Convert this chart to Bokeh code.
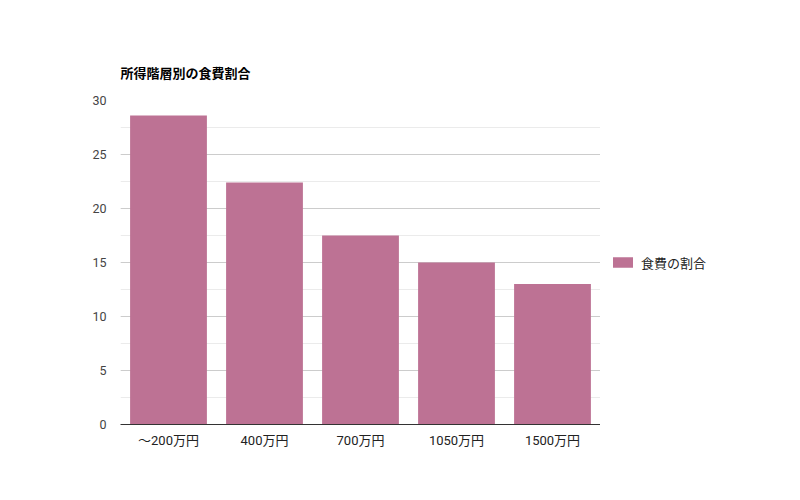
from bokeh.plotting import figure
from bokeh.layouts import row
from bokeh.models import ColumnDataSource, Legend, LegendItem, Range1d, FactorRange, SingleIntervalTicker
from bokeh.embed import file_html
from bokeh.resources import INLINE

categories = ["～200万円", "400万円", "700万円", "1050万円", "1500万円"]
values = [28.6, 22.4, 17.5, 15.0, 13.0]
series_name = "食費の割合"
title_text = "所得階層別の食費割合"

FONT = "Roboto, 'Noto Sans CJK JP', sans-serif"
BAR = "#bd7294"

src = ColumnDataSource(dict(cat=categories, val=values))

p = figure(width=600, height=500, x_range=FactorRange(*categories, range_padding=0),
           y_range=Range1d(0, 30), output_backend="svg", toolbar_location=None,
           min_border_left=120, min_border_right=0, min_border_top=100, min_border_bottom=76)

r = p.vbar(x="cat", top="val", width=0.8, source=src, fill_color=BAR, line_color=None)

p.title.text = title_text
p.title.text_font = FONT
p.title.text_font_size = "13px"
p.title.text_font_style = "bold"
p.title.text_color = "#000000"
p.title.align = "left"
p.title.standoff = 40

p.outline_line_color = None
p.xgrid.grid_line_color = None
p.ygrid.grid_line_color = "#cccccc"
p.ygrid.minor_grid_line_color = "#ebebeb"
p.yaxis.ticker = SingleIntervalTicker(interval=5, num_minor_ticks=2)
p.yaxis.axis_line_color = None
p.yaxis.major_tick_line_color = None
p.yaxis.minor_tick_line_color = None
p.yaxis.major_label_text_font = FONT
p.yaxis.major_label_text_font_size = "12.5px"
p.yaxis.major_label_text_color = "#444444"
p.yaxis.major_label_standoff = 8

p.xaxis.axis_line_color = "#333333"
p.xaxis.axis_line_width = 1
p.xaxis.major_tick_line_color = None
p.xaxis.minor_tick_line_color = None
p.xaxis.major_label_text_font = FONT
p.xaxis.major_label_text_font_size = "13px"
p.xaxis.major_label_text_color = "#222222"
p.xaxis.major_label_standoff = 2

# legend panel: a hidden copy of the series provides the legend swatch
lp = figure(width=200, height=500, x_range=FactorRange(*categories), y_range=Range1d(1000, 1001),
            output_backend="svg", toolbar_location=None,
            min_border_left=0, min_border_right=0, min_border_top=24, min_border_bottom=0)
lp.axis.visible = False
lp.grid.visible = False
lp.outline_line_color = None
dummy = lp.vbar(x="cat", top="val", width=0.8, source=src, fill_color=BAR, line_color=None)
dummy.visible = False

legend = Legend(items=[LegendItem(label=series_name, renderers=[dummy])],
                location="left", orientation="vertical",
                glyph_width=25, glyph_height=13, label_standoff=6,
                label_text_font=FONT, label_text_font_size="13px", label_text_color="#222222",
                border_line_color=None, background_fill_alpha=0, margin=10, padding=10,
                inactive_fill_alpha=0)
lp.add_layout(legend)

layout = row(p, lp, spacing=0)
open("out.html", "w").write(file_html(layout, INLINE))
